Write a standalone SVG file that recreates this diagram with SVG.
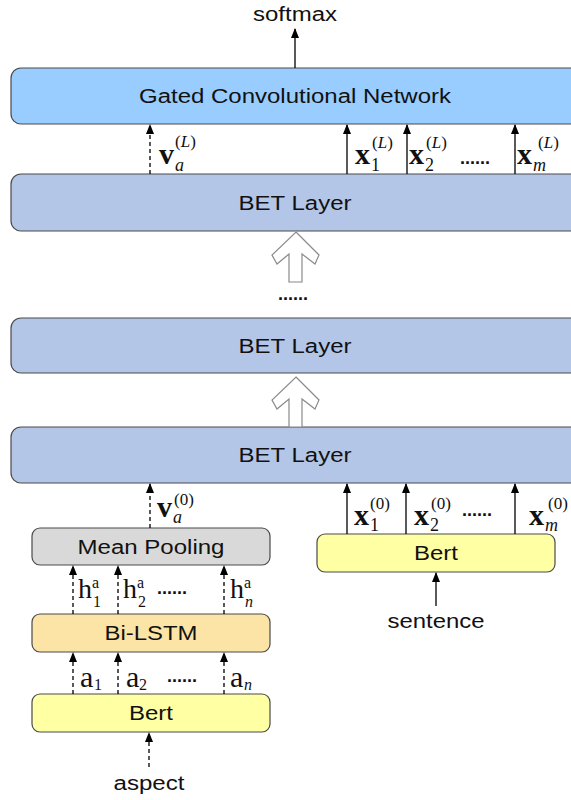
<svg xmlns="http://www.w3.org/2000/svg" width="571" height="800" viewBox="0 0 571 800">
<style>
.box{stroke:#4a4a4a;stroke-width:1.2}
.gcn{fill:#99CCFF}
.bet{fill:#B4C6E7}
.mp{fill:#D9D9D9}
.lstm{fill:#FCE4A6}
.bert{fill:#FFFFA3}
.t{font-family:"Liberation Sans",Arial,sans-serif;font-size:20px;fill:#111;text-anchor:middle}
.ln{stroke:#000;stroke-width:1.3;fill:none;marker-end:url(#ah)}
.dash{stroke-dasharray:4 3}
.hollow{fill:#fff;stroke:#8a8a8a;stroke-width:1.2}
.mv{font-family:"Liberation Serif","Times New Roman",serif;font-size:30px;font-weight:bold;fill:#111}
.mr{font-family:"Liberation Serif","Times New Roman",serif;fill:#111}
.sub{font-size:18px}
.sup{font-size:17px}
.it{font-style:italic}
.dots{font-family:"Liberation Sans",Arial,sans-serif;font-size:18px;font-weight:bold;fill:#111}
</style>
<defs>
<marker id="ah" viewBox="0 0 10 8" refX="9" refY="4" markerWidth="10" markerHeight="8" markerUnits="userSpaceOnUse" orient="auto">
<path d="M0,0 L10,4 L0,8 z" fill="#000"/>
</marker>
</defs>

<text class="t" x="295" y="21" textLength="84" lengthAdjust="spacingAndGlyphs">softmax</text>

<g id="gcn">
<rect class="box gcn" x="11" y="68" width="580" height="56" rx="10"/>
<text class="t" x="295" y="103" textLength="312" lengthAdjust="spacingAndGlyphs">Gated Convolutional Network</text>
</g>

<g id="bet-top">
<rect class="box bet" x="11" y="174" width="580" height="57" rx="10"/>
<text class="t" x="295" y="210" textLength="113" lengthAdjust="spacingAndGlyphs">BET Layer</text>
</g>

<g id="bet-mid">
<rect class="box bet" x="11" y="318" width="580" height="55" rx="10"/>
<text class="t" x="295" y="353" textLength="113" lengthAdjust="spacingAndGlyphs">BET Layer</text>
</g>

<g id="bet-bottom">
<rect class="box bet" x="11" y="427" width="580" height="56" rx="10"/>
<text class="t" x="295" y="462" textLength="113" lengthAdjust="spacingAndGlyphs">BET Layer</text>
</g>

<g id="mean-pooling">
<rect class="box mp" x="32" y="528" width="238" height="37" rx="8"/>
<text class="t" x="151" y="554" textLength="147" lengthAdjust="spacingAndGlyphs">Mean Pooling</text>
</g>

<g id="bilstm">
<rect class="box lstm" x="32" y="614" width="238" height="38" rx="8"/>
<text class="t" x="151" y="640" textLength="93" lengthAdjust="spacingAndGlyphs">Bi-LSTM</text>
</g>

<g id="bert-aspect">
<rect class="box bert" x="32" y="694" width="238" height="38" rx="8"/>
<text class="t" x="151" y="720" textLength="44" lengthAdjust="spacingAndGlyphs">Bert</text>
</g>

<g id="bert-sentence">
<rect class="box bert" x="317" y="534" width="238" height="38" rx="8"/>
<text class="t" x="436" y="560" textLength="44" lengthAdjust="spacingAndGlyphs">Bert</text>
</g>

<text class="t" x="436" y="628" textLength="97" lengthAdjust="spacingAndGlyphs">sentence</text>
<text class="t" x="149" y="790" textLength="71" lengthAdjust="spacingAndGlyphs">aspect</text>

<g id="connectors">
<line class="ln" x1="295" y1="68" x2="295" y2="29"/>
<line class="ln dash" x1="150" y1="174" x2="150" y2="125"/>
<line class="ln" x1="347" y1="174" x2="347" y2="125"/>
<line class="ln" x1="407" y1="174" x2="407" y2="125"/>
<line class="ln" x1="515" y1="174" x2="515" y2="125"/>
<polygon class="hollow" points="296,232 319,255 315,264 302,254 302,282 289,282 289,254 277,264 272,255"/>
<polygon class="hollow" points="296,377 319,400 315,409 302,399 302,427 289,427 289,399 277,409 272,400"/>
<line class="ln dash" x1="150" y1="528" x2="150" y2="484"/>
<line class="ln" x1="347" y1="534" x2="347" y2="484"/>
<line class="ln" x1="406" y1="534" x2="406" y2="484"/>
<line class="ln" x1="515" y1="534" x2="515" y2="484"/>
<line class="ln dash" x1="73" y1="614" x2="73" y2="566"/>
<line class="ln dash" x1="118" y1="614" x2="118" y2="566"/>
<line class="ln dash" x1="224" y1="614" x2="224" y2="566"/>
<line class="ln dash" x1="73" y1="694" x2="73" y2="653"/>
<line class="ln dash" x1="118" y1="694" x2="118" y2="653"/>
<line class="ln dash" x1="224" y1="694" x2="224" y2="653"/>
<line class="ln dash" x1="149" y1="767" x2="149" y2="733"/>
<line class="ln" x1="436" y1="606" x2="436" y2="573"/>
</g>

<text class="dots" x="278" y="300" font-size="20">......</text>

<g id="labels-top">
<text class="mv" x="159" y="164">v</text>
<text class="mr sub it" x="175" y="171">a</text>
<text class="mr sup" x="175" y="147">(<tspan class="it">L</tspan>)</text>

<text class="mv" x="355" y="164">x</text>
<text class="mr sub" x="371" y="171">1</text>
<text class="mr sup" x="372" y="148">(<tspan class="it">L</tspan>)</text>

<text class="mv" x="409" y="164">x</text>
<text class="mr sub" x="425" y="171">2</text>
<text class="mr sup" x="426" y="148">(<tspan class="it">L</tspan>)</text>

<text class="dots" x="460" y="164">......</text>

<text class="mv" x="517" y="164">x</text>
<text class="mr sub it" x="533" y="171">m</text>
<text class="mr sup" x="538" y="148">(<tspan class="it">L</tspan>)</text>
</g>

<g id="labels-bottom">
<text class="mv" x="157" y="517">v</text>
<text class="mr sub it" x="173" y="523">a</text>
<text class="mr sup" x="174" y="505">(0)</text>

<text class="mv" x="354" y="525">x</text>
<text class="mr sub" x="370" y="531">1</text>
<text class="mr sup" x="370" y="509">(0)</text>

<text class="mv" x="414" y="525">x</text>
<text class="mr sub" x="430" y="531">2</text>
<text class="mr sup" x="431" y="509">(0)</text>

<text class="dots" x="462" y="516">......</text>

<text class="mv" x="529" y="525">x</text>
<text class="mr sub it" x="545" y="531">m</text>
<text class="mr sup" x="548" y="509">(0)</text>

<text class="mr" x="78" y="598" font-size="28">h</text>
<text class="mr" x="92" y="588" font-size="16">a</text>
<text class="mr" x="93" y="607" font-size="16">1</text>

<text class="mr" x="123" y="598" font-size="28">h</text>
<text class="mr" x="137" y="588" font-size="16">a</text>
<text class="mr" x="138" y="607" font-size="16">2</text>

<text class="dots" x="157" y="594">......</text>

<text class="mr" x="230" y="598" font-size="28">h</text>
<text class="mr" x="244" y="588" font-size="16">a</text>
<text class="mr it" x="245" y="607" font-size="16">n</text>

<text class="mr" x="80" y="687" font-size="30">a</text>
<text class="mr" x="94" y="690" font-size="16">1</text>

<text class="mr" x="126" y="687" font-size="30">a</text>
<text class="mr" x="139" y="690" font-size="16">2</text>

<text class="dots" x="167" y="682">......</text>

<text class="mr" x="230" y="687" font-size="30">a</text>
<text class="mr it" x="244" y="690" font-size="16">n</text>
</g>
</svg>
